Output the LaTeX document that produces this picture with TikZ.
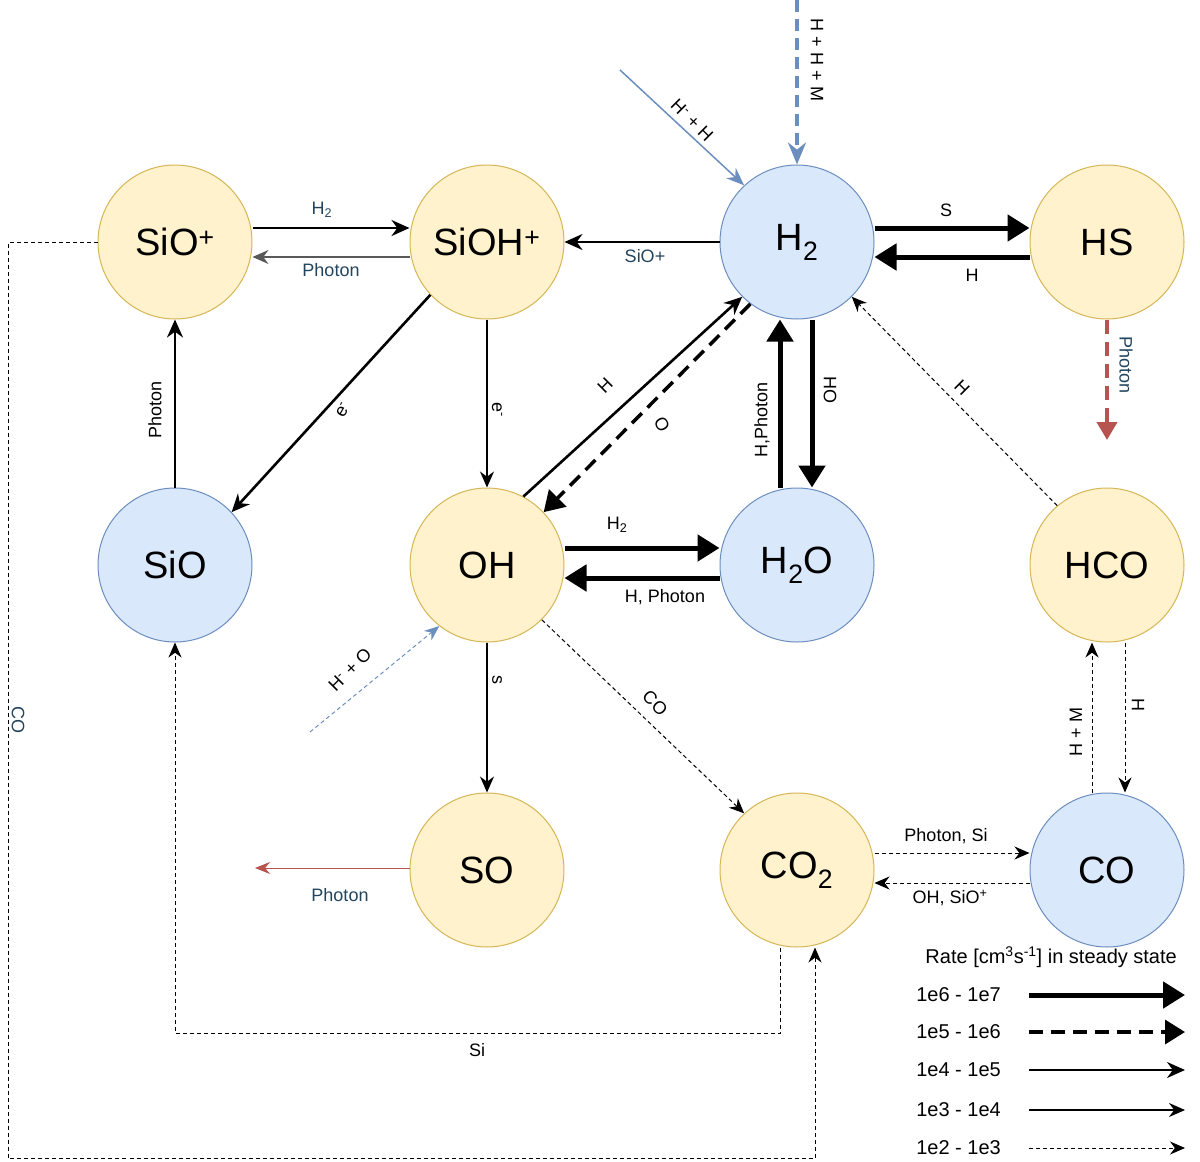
\documentclass[tikz,border=0pt]{standalone}
\usepackage{fontspec}
\setmainfont{Liberation Sans}
\usetikzlibrary{arrows.meta,calc}
\definecolor{yf}{HTML}{FFF2CC}\definecolor{ys}{HTML}{D6B656}
\definecolor{bf}{HTML}{DAE8FC}\definecolor{bs}{HTML}{6C8EBF}
\definecolor{tl}{HTML}{23445D}\definecolor{rd}{HTML}{B85450}
\newcommand{\sps}[1]{\textsuperscript{#1}}
\newcommand{\sbs}[1]{\textsubscript{#1}}
\begin{document}
\begin{tikzpicture}[x=1pt,y=-1pt,
 sp/.style={circle,minimum size=154pt,inner sep=0pt,line width=1pt,font=\fontsize{38}{40}\selectfont},
 Y/.style={sp,fill=yf,draw=ys},B/.style={sp,fill=bf,draw=bs},
 r1/.style={line width=5pt,-{Triangle[length=22pt,width=26pt]}},
 r2/.style={line width=3.5pt,dash pattern=on 14pt off 8pt,-{Triangle[length=20pt,width=24pt]}},
 r3/.style={line width=2.6pt,-{Stealth[length=18pt,width=16pt]}},
 r4/.style={line width=1.4pt,-{Stealth[length=16pt,width=14pt]}},
 r5/.style={line width=1pt,dash pattern=on 4pt off 3pt,-{Stealth[length=15pt,width=13pt]}},
 lb/.style={font=\fontsize{18}{20}\selectfont,inner sep=1pt},
 lg/.style={font=\fontsize{20}{22}\selectfont,inner sep=1pt},
 tlb/.style={lb,text=tl}]
\useasboundingbox (0,0) rectangle (1200,1162);
\node[Y] (siop) at (175,242) {SiO\sps{+}};
\node[Y] (sioh) at (487,242) {SiOH\sps{+}};
\node[B] (h2) at (797,242) {H\sbs{2}};
\node[Y] (hs) at (1107,242) {HS};
\node[B] (sio) at (175,565) {SiO};
\node[Y] (oh) at (487,565) {OH};
\node[B] (h2o) at (797,565) {H\sbs{2}O};
\node[Y] (hco) at (1107,565) {HCO};
\node[Y] (so) at (487,870) {SO};
\node[Y] (co2) at (797,870) {CO\sbs{2}};
\node[B] (co) at (1107,870) {CO};
% top row
\draw[r3] ($(siop.east)+(0,-14)$) -- ($(sioh.west)+(0,-14)$);
\node[tlb] at (322,210) {H\sbs{2}};
\draw[r4,draw=gray!70!black] ($(sioh.west)+(0,15)$) -- ($(siop.east)+(0,15)$);
\node[tlb] at (331,270) {Photon};
\draw[r3] (h2.west) -- (sioh.east);
\node[tlb] at (645,256) {SiO+};
\draw[r1] ($(h2.east)+(0,-14)$) -- ($(hs.west)+(0,-14)$);
\node[lb] at (946,210) {S};
\draw[r1] ($(hs.west)+(0,15)$) -- ($(h2.east)+(0,15)$);
\node[lb] at (972,275) {H};
\coordinate (hsph) at (1107,440);
\draw[line width=4pt,draw=rd,dash pattern=on 14pt off 8pt,-{Triangle[length=18pt,width=20pt]}] (hs.south) -- (hsph);
\node[tlb,rotate=-90] at (1126,365) {Photon};
% diagonals
\draw[r3] (sioh.223) -- (sio.43);
\node[lb,rotate=60] at (343,410) {e\sps{-}};
\draw[r4] (sioh.south) -- (oh.north);
\node[lb,rotate=-90] at (497,410) {e\sps{-}};
\draw[r3] (sio.north) -- (siop.south);
\node[lb,rotate=90] at (155,410) {Photon};
\draw[r3] (oh.62) -- (h2.225);
\node[lb,rotate=45] at (605,386) {H};
\draw[r2] (h2.233) -- (oh.43);
\node[lb,rotate=-60] at (662,424) {O};
\draw[r1] ($(h2o.north)+(-17,0)$) -- ($(h2.south)+(-17,0)$);
\node[lb,rotate=90] at (762,420) {H,Photon};
\draw[r1] ($(h2.south)+(15,0)$) -- ($(h2o.north)+(15,0)$);
\node[lb,rotate=-90] at (830,390) {HO};
\draw[r1] ($(oh.east)+(0,-17)$) -- ($(h2o.west)+(0,-17)$);
\node[lb] at (617,525) {H\sbs{2}};
\draw[r1] ($(h2o.west)+(0,13)$) -- ($(oh.east)+(0,13)$);
\node[lb] at (665,597) {H, Photon};
\draw[r5] (hco.130) -- (h2.315);
\node[lb,rotate=-45] at (962,388) {H};
% external
\coordinate (hhs) at (620,70);
\draw[line width=1.5pt,draw=bs,-{Stealth[length=18pt,width=14pt]}] (hhs) -- (h2.133);
\node[lb,rotate=-45] at (692,120) {H\sps{-} + H};
\coordinate (hhm) at (797,0);
\draw[line width=3.5pt,draw=bs,dash pattern=on 12pt off 7pt,-{Stealth[length=22pt,width=18pt]}] (hhm) -- (h2.north);
\node[lb,rotate=-90] at (817,60) {H + H + M};
\coordinate (hos) at (310,732);
\draw[line width=1pt,draw=bs,dash pattern=on 4pt off 3pt,-{Stealth[length=15pt,width=12pt]}] (hos) -- (oh.232);
\node[lb,rotate=45] at (350,670) {H\sps{-} + O};
% lower
\draw[r4] (oh.south) -- (so.north);
\node[lb,rotate=-90] at (497,680) {s};
\draw[r5] (oh.-45) -- (co2.133);
\node[lb,rotate=-45] at (655,703) {CO};
\draw[r5] ($(co2.east)+(0,-17)$) -- ($(co.west)+(0,-17)$);
\node[lb] at (946,836) {Photon, Si};
\draw[r5] ($(co.west)+(0,13)$) -- ($(co2.east)+(0,13)$);
\node[lb] at (950,898) {OH, SiO\sps{+}};
\draw[r5] ($(co.north)+(-15,0)$) -- ($(hco.south)+(-15,0)$);
\node[lb,rotate=90] at (1076,732) {H + M};
\draw[r5] ($(hco.south)+(18,0)$) -- ($(co.north)+(18,0)$);
\node[lb,rotate=-90] at (1138,705) {H};
\coordinate (sop) at (255,868);
\draw[line width=1pt,draw=rd,-{Stealth[length=15pt,width=12pt]}] ($(so.west)+(0,-2)$) -- (sop);
\node[tlb] at (340,895) {Photon};
\draw[r5] ($(co2.south)+(-17,0)$) |- (175,1033) -- (sio.south);
\node[lb] at (477,1050) {Si};
\draw[r5] (siop.west) -| (8,1158) -| ($(co2.south)+(18,0)$);
\node[tlb,rotate=-90] at (18,720) {CO};
% legend
\node[lg,anchor=east] at (1178,957) {Rate [cm\sps{3}s\sps{-1}] in steady state};
\foreach \y/\t/\s in {995/1e6 - 1e7/r1,1032/1e5 - 1e6/r2,1070/1e4 - 1e5/r3,1110/1e3 - 1e4/r4,1148/1e2 - 1e3/r5}{
 \node[lg,anchor=east] (l\y) at (1002,\y) {\t};
 \coordinate (e\y) at (1185,\y);
 \draw[\s] ($(l\y.east)+(27,0)$) -- (e\y);
}
\end{tikzpicture}
\end{document}
